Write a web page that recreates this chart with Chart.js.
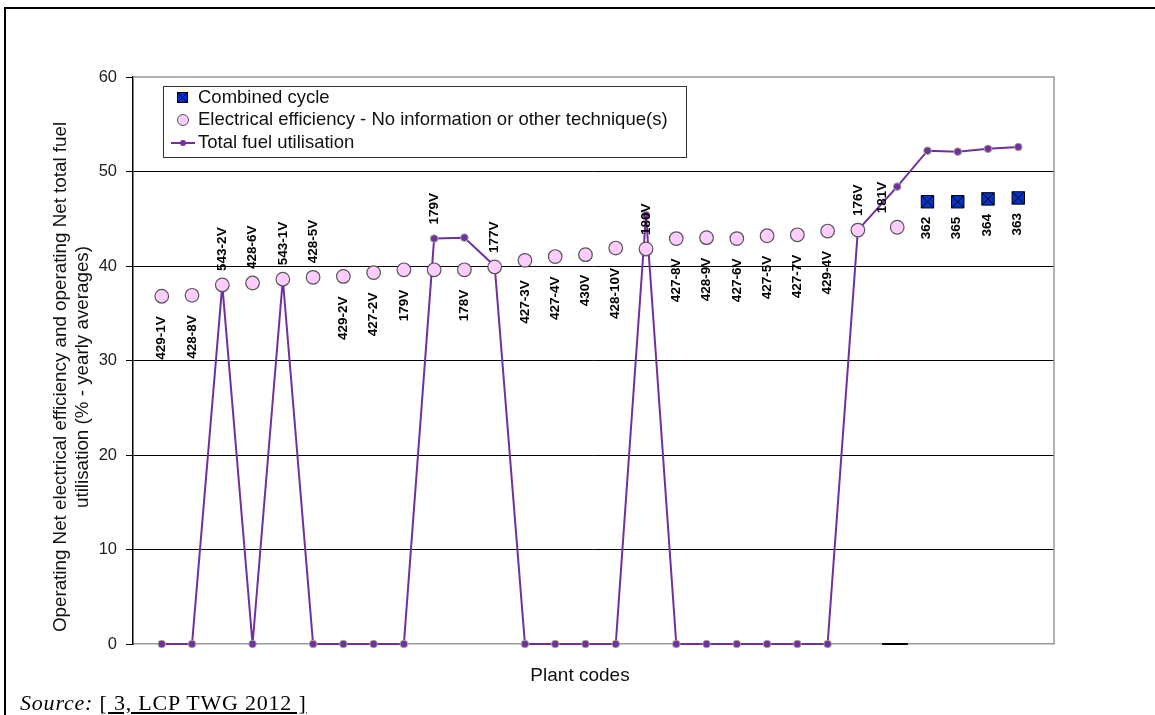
<!DOCTYPE html>
<html>
<head>
<meta charset="utf-8">
<script src="https://cdn.jsdelivr.net/npm/chart.js@4.4.0/dist/chart.umd.min.js"></script>
<style>
  html, body { margin: 0; padding: 0; background: #fff; }
  #wrap { position: relative; width: 1155px; height: 715px; overflow: hidden; }
  #frame { position: absolute; left: 4px; top: 7px; width: 1160px; height: 720px;
           border-top: 2px solid #000; border-left: 2px solid #000; }
  canvas { position: absolute; left: 0; top: 0; }
  #source { position: absolute; left: 20px; top: 690px; font: 22px "Liberation Serif", "Times New Roman", serif;
            letter-spacing: 0.8px; color: #000; line-height: 26px; }
  #source i { font-style: italic; }
  #source u { text-decoration: underline; }
</style>
</head>
<body>
<div id="wrap">
  <div id="frame"></div>
  <canvas id="chart" width="1155" height="715"></canvas>
  <div id="source"><i>Source:</i> <u>[ 3, LCP TWG 2012 ]</u></div>
</div>
<script>
// --- datos ---
const plantCodes = ['429-1V', '428-8V', '543-2V', '428-6V', '543-1V', '428-5V', '429-2V', '427-2V', '179V', '179V',
    '178V', '177V', '427-3V', '427-4V', '430V', '428-10V', '180V', '427-8V', '428-9V', '427-6V',
    '427-5V', '427-7V', '429-4V', '176V', '181V', '362', '365', '364', '363'];
// posicion de cada planta en el eje x (181V y ciclos combinados algo desplazados)
const plantPos = [1, 2, 3, 4, 5, 6, 7, 8, 9, 10, 11, 12, 13, 14, 15, 16, 17, 18, 19, 20,
    21, 22, 23, 24, 25.3, 26.3, 27.3, 28.3, 29.3];
const elecEff = [36.8, 36.9, 38.0, 38.2, 38.6, 38.8, 38.9, 39.3, 39.6, 39.6,
    39.6, 39.9, 40.6, 41.0, 41.2, 41.9, 41.8, 42.9, 43.0, 42.9,
    43.2, 43.3, 43.7, 43.8, 44.1];
const combinedCycle = [46.8, 46.8, 47.1, 47.2];
const totalFuel = [0, 0, 38.0, 0, 38.6, 0, 0, 0, 0, 42.9,
    43.0, 40.0, 0, 0, 0, 0, 45.4, 0, 0, 0,
    0, 0, 0, 43.8, 48.4, 52.2, 52.1, 52.4, 52.6];
const blackDash = [0, 0];
const blackDashPos = [24.8, 25.65];
const yTicks = [0, 10, 20, 30, 40, 50, 60];

// etiquetas por encima del punto (el resto va por debajo)
const labelsAbove = [2, 3, 4, 5, 9, 11, 16, 23, 24];

const FONT = '"Liberation Sans", Arial, sans-serif';
const PURPLE = '#7030A0';
const PINK = '#FFCCFF';
const BLUE = '#0033CC';

const nElec = elecEff.length;
const fuelPts = totalFuel.map((v, i) => ({ x: plantPos[i], y: v }));
const elecPts = elecEff.map((v, i) => ({ x: plantPos[i], y: v }));
const ccPts = combinedCycle.map((v, i) => ({ x: plantPos[nElec + i], y: v }));
const dashPts = blackDash.map((v, i) => ({ x: blackDashPos[i], y: v }));

// --- plugin: etiquetas rotadas ---
const pointLabels = {
    id: 'pointLabels',
    afterDatasetsDraw(chart) {
        const ctx = chart.ctx;
        const elec = chart.getDatasetMeta(1).data;
        const fuel = chart.getDatasetMeta(0).data;
        const cc = chart.getDatasetMeta(2).data;
        ctx.save();
        ctx.font = 'bold 13.5px ' + FONT;
        ctx.fillStyle = '#000';
        ctx.textBaseline = 'middle';
        const draw = (txt, x, y, above, gap) => {
            ctx.save();
            ctx.translate(x, y);
            ctx.rotate(-Math.PI / 2);
            if (above) { ctx.textAlign = 'left'; ctx.fillText(txt, gap, 0); }
            else { ctx.textAlign = 'right'; ctx.fillText(txt, -gap, 0); }
            ctx.restore();
        };
        elec.forEach((p, i) => {
            const above = labelsAbove.includes(i);
            let x = p.x, y = p.y;
            if (i === 9) y = fuel[i].y;      // el 179V se apoya en la linea
            if (i === 24) x -= 15;           // 181V algo a la izquierda
            draw(plantCodes[i], x, y, above, above ? 14 : 20);
        });
        cc.forEach((p, i) => draw(plantCodes[nElec + i], p.x - 1, p.y, false, 15));
        ctx.restore();
    }
};

// --- plugin: marco, titulos y leyenda ---
const decor = {
    id: 'decor',
    afterDraw(chart) {
        const ctx = chart.ctx;
        const a = chart.chartArea;
        ctx.save();
        // borde superior/derecho del area
        ctx.strokeStyle = '#999';
        ctx.lineWidth = 1.5;
        ctx.beginPath();
        ctx.moveTo(a.left, a.top); ctx.lineTo(a.right, a.top); ctx.lineTo(a.right, a.bottom);
        ctx.stroke();

        // titulo eje y
        ctx.fillStyle = '#111';
        ctx.font = '18.8px ' + FONT;
        ctx.textAlign = 'center';
        ctx.textBaseline = 'middle';
        ctx.save();
        ctx.translate(61, 377);
        ctx.rotate(-Math.PI / 2);
        ctx.fillText('Operating Net electrical efficiency and operating Net total fuel', 0, 0);
        ctx.fillText('utilisation (% - yearly averages)', 0, 22);
        ctx.restore();

        // titulo eje x
        ctx.font = '19px ' + FONT;
        ctx.fillText('Plant codes', 580, 676);

        // leyenda
        ctx.fillStyle = '#fff';
        ctx.fillRect(163, 86, 523, 71);
        ctx.strokeStyle = '#333';
        ctx.lineWidth = 1;
        ctx.strokeRect(163.5, 86.5, 523, 71);

        ctx.fillStyle = BLUE;
        ctx.fillRect(177.5, 92.5, 10, 10);
        ctx.strokeStyle = '#000';
        ctx.strokeRect(177.5, 92.5, 10, 10);
        ctx.beginPath();
        ctx.moveTo(177.5, 92.5); ctx.lineTo(187.5, 102.5);
        ctx.moveTo(187.5, 92.5); ctx.lineTo(177.5, 102.5);
        ctx.stroke();

        ctx.beginPath();
        ctx.arc(183, 120, 5.5, 0, Math.PI * 2);
        ctx.fillStyle = PINK; ctx.fill();
        ctx.strokeStyle = '#555'; ctx.stroke();

        ctx.strokeStyle = PURPLE; ctx.lineWidth = 2;
        ctx.beginPath(); ctx.moveTo(171, 143); ctx.lineTo(195, 143); ctx.stroke();
        ctx.beginPath(); ctx.arc(183, 143, 3, 0, Math.PI * 2);
        ctx.fillStyle = PURPLE; ctx.fill();

        ctx.fillStyle = '#111';
        ctx.font = '18.5px ' + FONT;
        ctx.textAlign = 'left';
        ctx.fillText('Combined cycle', 198, 98);
        ctx.fillText('Electrical efficiency - No information or other technique(s)', 198, 120);
        ctx.fillText('Total fuel utilisation', 198, 143);
        ctx.restore();
    }
};

new Chart(document.getElementById('chart'), {
    type: 'scatter',
    data: {
        datasets: [{
            label: 'Total fuel utilisation',
            data: fuelPts,
            showLine: true,
            clip: false,
            borderColor: PURPLE,
            borderWidth: 2,
            pointRadius: 3.8,
            pointBackgroundColor: PURPLE,
            pointBorderColor: '#a8a890',
            pointBorderWidth: 1,
            order: 3
        }, {
            label: 'Electrical efficiency - No information or other technique(s)',
            data: elecPts,
            pointRadius: 6.8,
            pointBackgroundColor: PINK,
            pointBorderColor: '#555',
            pointBorderWidth: 1.2,
            order: 1
        }, {
            label: 'Combined cycle',
            data: ccPts,
            pointStyle: 'rect',
            pointRadius: 8.8,
            pointBackgroundColor: BLUE,
            pointBorderColor: '#000',
            pointBorderWidth: 1,
            order: 1
        }, {
            label: 'cc-cross',
            data: ccPts,
            pointStyle: 'crossRot',
            pointRadius: 8.8,
            pointBorderColor: '#000',
            pointBorderWidth: 1,
            order: 0
        }, {
            label: 'dash',
            data: dashPts,
            showLine: true,
            clip: false,
            borderColor: '#000',
            borderWidth: 2,
            pointRadius: 0,
            order: 2
        }]
    },
    options: {
        responsive: false,
        animation: false,
        layout: { padding: { left: 0, top: 77, right: 101, bottom: 71 } },
        plugins: {
            legend: { display: false },
            tooltip: { enabled: false }
        },
        scales: {
            x: {
                type: 'linear',
                min: 0.05,
                max: 30.48,
                ticks: { display: false },
                grid: { display: false },
                border: { color: '#999', width: 1.5 },
                afterFit(s) { s.height = 0; }
            },
            y: {
                min: 0,
                max: 60,
                afterBuildTicks(s) { s.ticks = yTicks.map(v => ({ value: v })); },
                afterFit(s) { s.width = 133; },
                ticks: {
                    padding: 9,
                    color: '#222',
                    font: { family: FONT, size: 16.5 }
                },
                grid: {
                    color: c => (c.tick && (c.tick.value === 0 || c.tick.value === 60)) ? 'rgba(0,0,0,0)' : '#000',
                    tickColor: '#000',
                    tickLength: 7,
                    lineWidth: 1
                },
                border: { color: '#000', width: 1.5 }
            }
        }
    },
    plugins: [pointLabels, decor]
});
</script>
</body>
</html>
